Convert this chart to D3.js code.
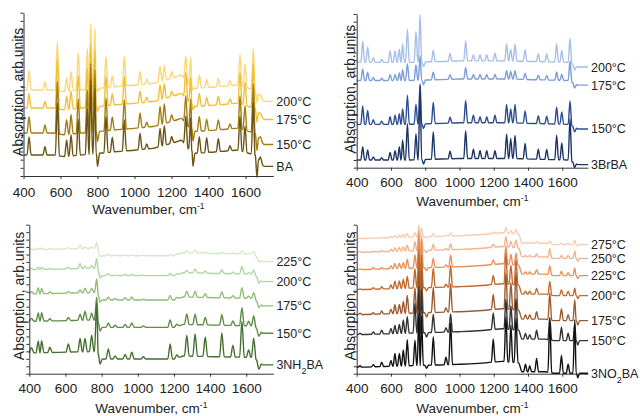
<!DOCTYPE html>
<html><head><meta charset="utf-8">
<script src="https://cdn.jsdelivr.net/npm/d3@7"></script>
<style>
html,body{margin:0;padding:0;background:#fff;}
text{font-family:"Liberation Sans",Arial,sans-serif;fill:#222;}
</style></head><body>
<svg id="chart" width="640" height="416"></svg>
<script>
// ---------- data ----------
const xTicks = [400, 600, 800, 1000, 1200, 1400, 1600];
const yTitle = "Absorption, arb.units";

// Panel A: BA
const peaksA = [430, 516, 583, 633, 657, 696, 745, 763, 786, 800, 846, 880, 945, 1030, 1066, 1138, 1161, 1201, 1277, 1304, 1316, 1350, 1390, 1453, 1516, 1570, 1597, 1642, 1662, 1680];
const baseA = [[400,0],[560,0],[620,-1],[900,2],[1100,4],[1255,9],[1290,4],[1330,1],[1560,3],[1650,0],[1700,-7],[1750,-7]];
const labelsA = ["200°C", "175°C", "150°C", "BA"];
const offsetsA = [52.7, 41.6, 26.3, 12.9];
const hA200 = [12, 5, 30, 8, 12, 23, 25, 40, 37, -2, 19, 7, 18, 8, 3, 9, 9, 4, 15, 17, -2, 8, 5, 5, 3, 19, 14, 25, -6, 1];
const hA175 = [9, 4, 30, 8, 11, 20, 24, 38, 35, -3, 18, 7, 17, 7, 3, 9, 9, 3, 16, 16, -3, 8, 5, 5, 3, 19, 14, 27, -7, 1];
const hA150 = [10, 5, 32, 9, 12, 21, 26, 42, 38, -6, 20, 8, 18, 9, 3, 11, 12, 4, 17, 18, -7, 9, 7, 6, 3, 20, 15, 30, -9, 2];
const hABA  = [11, 5, 32, 10, 13, 22, 28, 45, 40, -8, 22, 9, 19, 10, 3, 11, 12, 4, 18, 20, -9, 10, 9, 8, 3, 21, 16, 32, -12, 3];

// Panel B: 3BrBA
const peaksB = [435, 464, 497, 546, 595, 624, 649, 668, 696, 746, 770, 790, 847, 945, 1036, 1081, 1120, 1159, 1207, 1275, 1299, 1324, 1383, 1460, 1509, 1567, 1597, 1645, 1672];
const baseB = [[400,0],[700,0],[1000,1],[1300,1],[1640,0],[1690,-3],[1750,-3]];
const labelsB = ["200°C", "175°C", "150°C", "3BrBA"];
const offsetsB = [68.5, 56.7, 28.2, 5.0];
const hB200 = [14, 10, 3, 2, 7.5, 7.5, 8.6, 12, 21.5, 20, 31, -3, 7.5, 5, 13, 4, 4, 4, 5, 11, 7.5, 11, 7.5, 5, 5, 12, 7.5, 16, -3];
const hB175 = [7.5, 5.4, 2, 1.5, 4, 4, 5, 7, 11, 10, 16, -3, 5, 3, 7.5, 3, 3, 3, 3, 5.4, 5, 5.5, 4, 3, 3, 5.4, 4, 13, -3];
const hB150 = [12, 9, 3, 2, 5, 6, 7, 10, 19, 13, 26, -3, 14, 4, 14.5, 5, 4, 4, 5, 12, 9, 12, 8, 5, 5, 11, 8, 15.5, -3];
const hBBr  = [8.6, 6.5, 2, 1.5, 5, 6, 8.6, 13, 23.7, 17, 48, -3, 18, 5, 18, 6, 5, 5, 5, 16, 13, 15, 10, 6.5, 6.5, 16, 11, 27, -3];

// Panel C: 3NH2BA
const peaksC = [413, 450, 468, 514, 616, 681, 708, 745, 773, 791, 837, 875, 930, 967, 1031, 1179, 1216, 1271, 1317, 1373, 1465, 1526, 1576, 1613, 1641, 1670];
const baseC = [[400,0],[770,1],[800,-4],[1000,-4],[1200,-4],[1250,-2],[1640,-3],[1690,-8],[1750,-8]];
const labelsC = ["225°C", "200°C", "175°C", "150°C", "3NH2BA"];
const offsetsC = [83.2, 69.8, 53.5, 35.1, 13.9];
const hC225 = [0.5, 1, 1, 0.5, 0.8, 2.5, 1, 1, 4.5, -2, 1, 0.5, 0.5, 0.5, 0.5, 1, 0.5, 1, 2, 1, 1, 0.5, 2, 0.5, 2, -2];
const hC200 = [1, 1.5, 1.5, 0.5, 1, 3.5, 1.5, 2, 7, -3, 1.5, 0.5, 1, 1, 0.5, 1.5, 0.5, 1.5, 2.5, 1.5, 2.5, 1, 5, 1, 3, -3];
const hC175 = [1.5, 4, 3.5, 1, 1, 2, 3, 3, 9.6, -3, 2, 1, 1.5, 2, 0.5, 3, 1, 4, 4, 2.5, 4, 1.5, 7, 1.5, 4, -3];
const hC150 = [2, 5.6, 5.6, 1.5, 2, 4, 6, 4.5, 15.7, -4, 3, 1.5, 2, 3, 1, 5, 1.5, 7, 7, 5, 7, 3, 12, 3, 7, -4];
const hCNH  = [3.5, 8, 8, 3.5, 5.5, 9, 9, 11, 33, -5, 6.7, 2, 3, 4.5, 1.5, 10, 2, 14, 15, 13, 16, 8, 24, 5, 13, -5];

// Panel D: 3NO2BA
const peaksD = [419, 497, 546, 600, 623, 649, 672, 695, 740, 763, 778, 808, 847, 921, 948, 1197, 1271, 1300, 1330, 1385, 1410, 1450, 1527, 1595, 1634, 1673, 1690];
const baseD = [[400,0],[700,1],[1000,2],[1250,4],[1345,3],[1365,-3],[1500,-3],[1560,-4],[1680,-4],[1750,-4]];
const labelsD = ["275°C", "250°C", "225°C", "200°C", "175°C", "150°C", "3NO2BA"];
const offsetsD = [90.6, 81.4, 69.8, 56.4, 39.6, 26.2, 4.3];
const hD275 = [0.3, 0.3, 0.5, 1, 1.5, 1.5, 2, 2.5, 3, 8, 6, -1, 2, 0.5, 2, 1, 4, 2, 3, 0.5, 0.5, 1, 2, 1, 1, 3, -1];
const hD250 = [0.5, 0.5, 0.8, 1.5, 2.5, 2.5, 3, 4, 6, 14, 10, -1.5, 4, 1, 4, 2, 7, 4, 5, 1, 1, 2, 6, 2, 2, 5, -2];
const hD225 = [0.5, 1, 1, 2, 3.5, 3.5, 4, 6, 9, 23, 19, -2, 6, 1.5, 8, 3, 12, 7, 8, 1.5, 1.5, 3, 6, 3, 2, 5, -2];
const hD200 = [0.5, 1, 1.5, 2.5, 5, 5, 6, 8, 13, 26, 22, -2, 13, 2, 14.5, 6, 21, 13, 17, 2, 2, 4, 9, 4, 3, 5, -2];
const hD175 = [1, 1, 2, 3, 6, 6, 8, 12, 17, 30, 28, -3, 17, 3, 19, 10, 24, 18, 25, 3, 3, 5, 18, 8, 4, 14, -3];
const hD150 = [1, 1.5, 2.5, 3.5, 5.5, 6, 9, 11, 20, 31, 29, -3, 12, 3, 12, 11, 20, 16, 21, 4, 3, 6, 15, 9, 5, 11, -3];
const hDNO  = [1, 1.5, 3, 4, 8.5, 8.5, 10.7, 17.5, 17, 35, 33, -2, 19, 5, 28, 15.5, 30, 25, 30, 5, 4, 9, 34, 12, 6, 36, -3];

// ---------- layout / style ----------
const panels = [
  {peaks: peaksA, base: baseA, labels: labelsA, offsets: offsetsA, heights: [hA200, hA175, hA150, hABA],
   colors: ["#fcd773", "#f0bf36", "#a37d10", "#6b5312"], hw: 11,
   x0: 23.5, x1: 273.3, yB: 176, yT: 12.7, ytx: 17.5, yty: 92, xtY: 214, pad: 8},
  {peaks: peaksB, base: baseB, labels: labelsB, offsets: offsetsB, heights: [hB200, hB175, hB150, hBBr],
   colors: ["#a7bfe8", "#7c9dd6", "#2c4d92", "#1d3566"], hw: 11,
   x0: 356.7, x1: 588, yB: 167.7, yT: 14, ytx: 350, yty: 89, xtY: 206, pad: 7},
  {peaks: peaksC, base: baseC, labels: labelsC, offsets: offsetsC, heights: [hC225, hC200, hC175, hC150, hCNH],
   colors: ["#d4e8c9", "#b3d6a0", "#8fbd76", "#5e8c44", "#456f2e"], hw: 13,
   x0: 29.3, x1: 273.4, yB: 373.7, yT: 224.7, ytx: 19, yty: 296, xtY: 413, pad: 7},
  {peaks: peaksD, base: baseD, labels: labelsD, offsets: offsetsD, heights: [hD275, hD250, hD225, hD200, hD175, hD150, hDNO],
   colors: ["#f7cdb2", "#f2b48e", "#e8925a", "#c26a2b", "#9c5b2e", "#333333", "#111111"], hw: 11,
   x0: 356.7, x1: 588, yB: 373.7, yT: 224.7, ytx: 350, yty: 296, xtY: 413, pad: 7}
];

const svg = d3.select("#chart");

function addLabel(sel, str, subSize) {
  // digits following a letter are subscripts (chemical formula)
  const parts = str.split(/(?<=[A-Za-z])(\d)/);
  parts.forEach((p, i) => {
    if (!p) return;
    const isSub = i % 2 === 1;
    const t = sel.append("tspan").text(p);
    if (isSub) t.attr("baseline-shift", "sub").attr("font-size", subSize);
  });
}

panels.forEach(P => {
  const x = d3.scaleLinear().domain([400, 1750]).range([P.x0, P.x1]);
  const y = d3.scaleLinear().domain([0, 100]).range([P.yB, P.yT]);
  const g = svg.append("g");

  const bgAt = d3.scaleLinear().domain(P.base.map(d => d[0])).range(P.base.map(d => d[1]));

  const buildPts = (offset, h) => {
    const pts = [], wins = [];
    P.peaks.forEach((p, i) => {
      const gl = i > 0 ? p - P.peaks[i - 1] : 1e9;
      const gr = i < P.peaks.length - 1 ? P.peaks[i + 1] - p : 1e9;
      const wl = Math.min(P.hw, gl * 0.45), wr = Math.min(P.hw, gr * 0.45);
      pts.push([p - wl, offset + bgAt(p - wl)]);
      pts.push([p, offset + bgAt(p) + h[i]]);
      pts.push([p + wr, offset + bgAt(p + wr)]);
      wins.push([p - wl - 0.5, p + wr + 0.5]);
    });
    P.base.forEach(k => {
      if (!wins.some(w => k[0] > w[0] && k[0] < w[1])) pts.push([k[0], offset + k[1]]);
    });
    pts.sort((a, b) => a[0] - b[0]);
    return pts;
  };

  const line = d3.line().x(d => x(d[0])).y(d => y(d[1])).curve(d3.curveMonotoneX);

  P.offsets.forEach((off, si) => {
    const pts = buildPts(off, P.heights[si]);
    g.append("path").attr("d", line(pts)).attr("fill", "none")
      .attr("stroke", P.colors[si]).attr("stroke-width", 1.4).attr("stroke-linejoin", "round");
    const last = pts[pts.length - 1];
    const t = g.append("text").attr("x", x(last[0]) + 3).attr("y", y(last[1]))
      .attr("dy", "0.36em").attr("font-size", 12.5);
    addLabel(t, P.labels[si], 9);
  });

  // axes
  const xa = g.append("g").attr("transform", `translate(0,${P.yB})`)
    .call(d3.axisBottom(x).tickValues(xTicks).tickFormat(d3.format("d")).tickSize(3).tickSizeOuter(0).tickPadding(P.pad));
  xa.selectAll("text").attr("font-size", 13.5).attr("font-family", "Liberation Sans, Arial, sans-serif").attr("fill", "#222");
  xa.selectAll("path,line").attr("stroke", "#333");

  const ya = g.append("g").attr("transform", `translate(${P.x0},0)`)
    .call(d3.axisLeft(y).ticks(20).tickSize(3).tickSizeOuter(0).tickFormat(""));
  ya.selectAll("path,line").attr("stroke", "#333");

  // titles
  const xt = g.append("text").attr("x", (P.x0 + P.x1) / 2).attr("y", P.xtY)
    .attr("text-anchor", "middle").attr("font-size", 13.5).text("Wavenumber, cm");
  xt.append("tspan").attr("baseline-shift", "super").attr("font-size", 8.5).text("-1");

  g.append("text").attr("transform", `translate(${P.ytx},${P.yty}) rotate(-90)`)
    .attr("text-anchor", "middle").attr("dy", "0.36em").attr("font-size", 14).text(yTitle);
});
</script>
</body></html>
